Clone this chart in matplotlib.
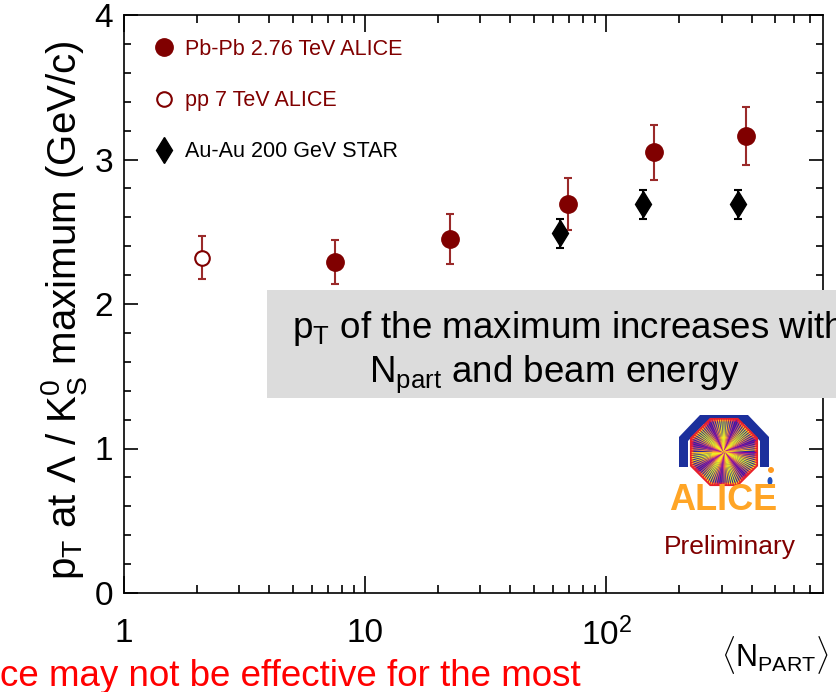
import numpy as np
import matplotlib
matplotlib.use('Agg')
import matplotlib.pyplot as plt
from matplotlib.lines import Line2D
from matplotlib.patches import Polygon, Rectangle, Circle, Ellipse
from matplotlib.collections import LineCollection
from matplotlib.ticker import FixedLocator, FixedFormatter, LogLocator, MultipleLocator, NullFormatter

plt.rcParams['font.family'] = ['Liberation Sans', 'DejaVu Sans']
plt.rcParams['mathtext.fontset'] = 'custom'
plt.rcParams['mathtext.rm'] = 'Liberation Sans'
plt.rcParams['mathtext.it'] = 'Liberation Sans:italic'
plt.rcParams['mathtext.bf'] = 'Liberation Sans:bold'

# Pb-Pb 2.76 TeV ALICE
npart_pbpb = [7.5, 22.5, 69, 157, 380]
pt_pbpb = [2.29, 2.45, 2.69, 3.05, 3.16]
err_pbpb = [0.15, 0.17, 0.18, 0.19, 0.20]

# pp 7 TeV ALICE
npart_pp = [2.1]
pt_pp = [2.32]
err_pp = [0.15]

# Au-Au 200 GeV STAR
npart_star = [64, 142, 352]
pt_star = [2.49, 2.69, 2.69]
err_star = [0.10, 0.10, 0.10]

labels = ['Pb-Pb 2.76 TeV ALICE', 'pp 7 TeV ALICE', 'Au-Au 200 GeV STAR']
x_ticks = [1, 10, 100]
x_ticklabels = ['1', '10', r'$\mathregular{10^2}$']

maroon = '#800000'
errcol = '#9a2a2a'

fig = plt.figure(figsize=(8.37, 6.92), dpi=100)
W, H = 837, 692
ax = fig.add_axes([124 / W, 1 - 593 / H, (823 - 124) / W, (593 - 15) / H])

ax.errorbar(npart_pbpb, pt_pbpb, yerr=err_pbpb, fmt='o', color=maroon, ecolor=errcol,
            ms=12.5, elinewidth=1.5, capsize=3, capthick=1.5, zorder=3)
ax.errorbar(npart_pp, pt_pp, yerr=err_pp, fmt='o', color=maroon, ecolor=errcol, mfc='white',
            mec=maroon, mew=1.5, ms=10.5, elinewidth=1.5, capsize=3, capthick=1.5, zorder=3)
ax.errorbar(npart_star, pt_star, yerr=err_star, fmt='d', color='black', ecolor='black',
            ms=13.5, elinewidth=1.5, capsize=3, capthick=1.5, zorder=3)

ax.set_xscale('log')
ax.set_xlim(1, 790)
ax.set_ylim(0, 4)
ax.xaxis.set_major_locator(FixedLocator(x_ticks))
ax.xaxis.set_major_formatter(FixedFormatter(x_ticklabels))
ax.xaxis.set_minor_locator(LogLocator(base=10, subs=np.arange(2, 10)))
ax.xaxis.set_minor_formatter(NullFormatter())
ax.yaxis.set_major_locator(MultipleLocator(1))
ax.yaxis.set_minor_locator(MultipleLocator(0.2))
ax.tick_params(which='both', direction='in', top=True, right=True, width=1.2, colors='black')
ax.tick_params(axis='x', which='major', length=12, pad=18)
ax.tick_params(axis='x', which='minor', length=6)
ax.tick_params(axis='y', which='major', length=10, pad=8)
ax.tick_params(axis='y', which='minor', length=5)
for lab in ax.get_xticklabels() + ax.get_yticklabels():
    lab.set_fontsize(24)
for s in ax.spines.values():
    s.set_linewidth(1.2)

ax.set_ylabel(r'p$_\mathregular{T}$ at Λ / K$^\mathregular{0}_\mathregular{S}$ maximum (GeV/c)',
              fontsize=29)
ax.yaxis.set_label_coords(-0.050, 0.49)

handles = [
    Line2D([], [], ls='none', marker='o', color=maroon, ms=12.5),
    Line2D([], [], ls='none', marker='o', mfc='white', mec=maroon, mew=1.5, ms=10.5),
    Line2D([], [], ls='none', marker='d', color='black', ms=13.5),
]
ax.legend(handles, labels, loc='upper left', bbox_to_anchor=(153 / W, 1 - 39 / H),
          bbox_transform=fig.transFigure, frameon=False, handlelength=1.0,
          handletextpad=0.5, labelspacing=1.4, borderpad=0, borderaxespad=0,
          prop={'size': 15.5}, labelcolor=[maroon, maroon, 'black'])

# overlay in pixel units for the annotation box and logo
ov = fig.add_axes([0, 0, 1, 1])
ov.set_xlim(0, W)
ov.set_ylim(H, 0)
ov.axis('off')
ov.patch.set_alpha(0)

ov.add_patch(Rectangle((267, 290), 620, 108, fc='#dcdcdc', ec='none'))
ov.text(568, 328, r'p$_\mathregular{T}$ of the maximum increases with', fontsize=26.5,
        ha='center', va='center')
ov.text(554, 374, r'N$_\mathregular{part}$ and beam energy', fontsize=26.5,
        ha='center', va='center')

ov.text(0, 676, 'ce may not be effective for the most', color='red', fontsize=26.5,
        ha='left', va='center')
ov.text(775, 655, r'$\langle$N$_\mathregular{PART}$$\rangle$', fontsize=22,
        ha='center', va='center')

# ALICE logo
ov.add_patch(Polygon([(679, 467), (679, 437), (700, 415), (748, 415), (769, 437), (769, 467),
                      (760, 467), (760, 441), (744, 424), (704, 424), (688, 441), (688, 467)],
                     closed=True, fc='#1c2f9c', ec='none'))
cx, cy, r = 724, 452, 35
ang = np.pi / 8 + np.arange(8) * np.pi / 4
octo = Polygon(np.column_stack([cx + r * np.cos(ang), cy + r * np.sin(ang)]), closed=True,
               fc='#2a2a9a', ec='#e8202a', lw=2.5)
ov.add_patch(octo)
theta = np.linspace(0, 2 * np.pi, 90, endpoint=False)
segs = [[(cx, cy), (cx + 40 * np.cos(t), cy + 40 * np.sin(t))] for t in theta]
cols = plt.get_cmap('plasma')(0.25 + 0.75 * np.abs(np.sin(theta * 3.7)))
rays = LineCollection(segs, colors=cols, linewidths=0.7)
ov.add_collection(rays)
rays.set_clip_path(octo)
ov.add_patch(Circle((cx - 4, cy + 2), 8, fc='#ff9a30', ec='none', alpha=0.8))
ov.add_patch(Circle((771, 470), 3, fc='#ff9a20', ec='none'))
ov.add_patch(Ellipse((770, 481), 5, 8, fc='#2050c0', ec='none'))
ov.text(723, 500, 'ALICE', color='#ffa526', fontsize=26, fontweight='bold',
        ha='center', va='center')
ov.text(730, 547, 'Preliminary', color=maroon, fontsize=19,
        ha='center', va='center')

fig.savefig('out.png', dpi=100)
